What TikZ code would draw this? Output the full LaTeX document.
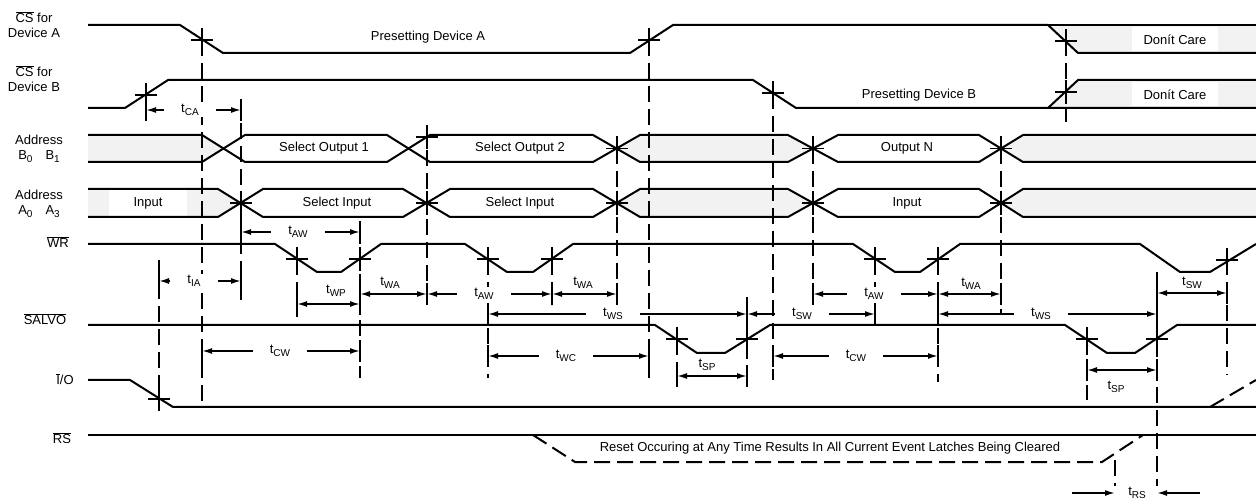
\documentclass[tikz,border=0pt]{standalone}
\usepackage{fontspec}
\setmainfont{Liberation Sans}
\usepackage{tikz}
\usetikzlibrary{arrows.meta}

\tikzset{
  sig/.style={line width=2pt},
  tline/.style={line width=1.8pt, dash pattern=on 16pt off 7pt},
  dimarr/.style={->, line width=1.6pt},
  tickln/.style={line width=1.6pt},
  shade/.style={fill=black!5},
  dimlbl/.style={fill=white, inner xsep=17pt, inner ysep=1pt},
  txtlbl/.style={align=center},
  blank/.style={fill=white, minimum height=24pt, inner xsep=12pt},
}
\newcommand\lowidx[1]{\raisebox{-3.5pt}{\fontsize{10}{12}\selectfont #1}}
\newcommand\tsub[1]{t\lowidx{#1}}

\begin{document}
\begin{tikzpicture}[x=1pt, y=-1pt, >={Latex[length=10pt,width=6pt]}, font=\fontsize{13}{15}\selectfont]
\useasboundingbox (0,0) rectangle (1256,502);

% don't care and undefined areas
\fill[shade] (1048,25) -- (1078,53) -- (1256,53) -- (1256,25) -- cycle;
\fill[shade] (1048,108) -- (1078,80) -- (1256,80) -- (1256,108) -- cycle;
\foreach \t/\b/\xl in {135/162/202, 189/217/218} {
  \fill[shade] (88,\t) -- (\xl,\t) -- (\xl+22,{(\t+\b)/2}) -- (\xl,\b) -- (88,\b) -- cycle;
  \fill[shade] (617,{(\t+\b)/2}) -- (640,\t) -- (788,\t) -- (813,{(\t+\b)/2}) -- (788,\b) -- (640,\b) -- cycle;
  \fill[shade] (1001,{(\t+\b)/2}) -- (1023,\t) -- (1256,\t) -- (1256,\b) -- (1023,\b) -- cycle;
}
\node[blank] (dca) at (1175,39.5) {Donít Care};
\node[blank] (dcb) at (1175,94.5) {Donít Care};
\node[blank, minimum height=26pt, inner xsep=25pt] (in1) at (148,203) {Input};

% signal names
\node[txtlbl] (csa) at (34,24.5) {$\overline{\mbox{CS}}$ for\\Device A};
\node[txtlbl] (csb) at (34,79) {$\overline{\mbox{CS}}$ for\\Device B};
\node[txtlbl] (adb) at (39,149) {Address\\B\lowidx{0}\quad B\lowidx{1}};
\node[txtlbl] (ada) at (39,204) {Address\\A\lowidx{0}\quad A\lowidx{3}};
\node (wr) at (58,242) {$\overline{\mbox{WR}}$};
\node (salvo) at (45,319) {$\overline{\mbox{SALVO}}$};
\node (io) at (65,379) {$\overline{\mbox{I}}$/O};
\node (rs) at (62,438) {$\overline{\mbox{RS}}$};

% waveforms
\draw[sig] (88,25) -- (180,25) -- (223,53) -- (630,53) -- (673,25) -- (1048,25) -- (1078,53) -- (1256,53);
\draw[sig] (1048,25) -- (1256,25);
\draw[sig] (88,108) -- (125,108) -- (168,80) -- (753,80) -- (796,108) -- (1256,108);
\draw[sig] (1048,108) -- (1078,80) -- (1256,80);
\foreach \t/\b/\p/\q/\r/\s in {135/162/202/245/387/430, 189/217/218/263/403/450} {
  \draw[sig] (88,\t) -- (\p,\t) -- (\q,\b) -- (\r,\b) -- (\s,\t) -- (593,\t) -- (640,\b) -- (788,\b)
    -- (838,\t) -- (979,\t) -- (1023,\b) -- (1256,\b);
  \draw[sig] (88,\b) -- (\p,\b) -- (\q,\t) -- (\r,\t) -- (\s,\b) -- (593,\b) -- (640,\t) -- (788,\t)
    -- (838,\b) -- (979,\b) -- (1023,\t) -- (1256,\t);
}
\draw[sig] (88,244) -- (275,244) -- (317,272) -- (341,272) -- (381,244) -- (465,244) -- (507,272)
  -- (533,272) -- (573,244) -- (853,244) -- (895,272) -- (920,272) -- (960,244) -- (1140,244)
  -- (1180,272) -- (1210,272) -- (1256,244);
\draw[sig] (88,325) -- (655,325) -- (697,353) -- (725,353) -- (770,325) -- (1065,325) -- (1107,353)
  -- (1135,353) -- (1177,325) -- (1256,325);
\draw[sig] (88,380) -- (130,380) -- (173,407) -- (1256,407);
\draw[sig, dash pattern=on 16pt off 7pt] (1210,407) -- (1256,380);
\draw[sig] (88,435) -- (1256,435);
\draw[sig, dash pattern=on 16pt off 7pt] (533,435) -- (575,462) -- (1102,462) -- (1143,435);

% bus and signal texts
\node (pda) at (428,37) {Presetting Device A};
\node (pdb) at (919,95) {Presetting Device B};
\node (so1) at (324,148) {Select Output 1};
\node (so2) at (520,148) {Select Output 2};
\node (on) at (907,148) {Output N};
\node (si1) at (337,203) {Select Input};
\node (si2) at (520,203) {Select Input};
\node (in2) at (907,203) {Input};
\node (rst) at (830,448) {Reset Occuring at Any Time Results In All Current Event Latches Being Cleared};

% reference lines
\foreach \x/\a/\b in {159/260/399, 202/40/405, 241/100/303, 297/259/317, 360/228/378, 427/127/305,
  488/259/378, 552/259/305, 617/148/300, 649/40/378, 677/339/385, 747/297/385, 773/93/380,
  813/148/300, 875/259/317, 938/259/382, 1001/148/315, 1066/40/122, 1087/339/400, 1115/460/502,
  1157/272/502, 1227/259/375}
  \draw[tline] (\x,\a) -- (\x,\b);

% crossing marks
\foreach \x/\y in {202/40, 649/40, 1066/41, 146/95, 773/93, 1066/92, 427/137,
  617/148.5, 813/148.5, 1001/148.5, 241/203, 427/203, 617/203, 813/203, 1001/203,
  297/259, 360/259, 488/259, 552/259, 875/259, 938/259, 1227/260,
  677/339, 747/339, 1087/339, 1157/339, 159/399}
  \draw[tickln] (\x-11,\y) -- (\x+11,\y) (\x,\y-12) -- (\x,\y+12);

% timing parameters
\foreach \nm/\lx/\y/\xa/\xb/\s in {tca/190/110/146/241/CA, tia/194/281/159/241/IA,
  taw1/298/232/241/360/AW, tcw1/280/351/202/360/CW, taw2/484/294/427/552/AW,
  tws1/613/314/488/747/WS, twc/566/356/488/649/WC, tsw1/802/314/747/875/SW,
  tcw2/856/356/773/938/CW, taw3/874/294/813/938/AW, tws2/1041/314/938/1157/WS} {
  \node[dimlbl] (\nm) at (\lx,\y) {\tsub{\s}};
  \draw[dimarr] (\nm) -- (\xa,\y);
  \draw[dimarr] (\nm) -- (\xb,\y);
  \draw[tickln] (\xa,\y-11) -- (\xa,\y+11) (\xb,\y-11) -- (\xb,\y+11);
}
\foreach \lx/\ly/\y/\xa/\xb/\s [count=\k] in {336/291/304/297/360/WP, 390/283/294/360/427/WA,
  583/283/294/552/617/WA, 971/284/294/938/1001/WA, 1192/283/293/1157/1227/SW,
  707/365/376/677/747/SP, 1116/387/370/1087/1157/SP} {
  \draw[dimarr, <->] (\xa,\y) -- (\xb,\y);
  \draw[tickln] (\xa,\y-11) -- (\xa,\y+11) (\xb,\y-11) -- (\xb,\y+11);
  \node (dim\k) at (\lx,\ly) {\tsub{\s}};
}
\node[dimlbl] (trs) at (1137,493) {\tsub{RS}};
\draw[dimarr] (1072,493) -- (1115,493);
\draw[dimarr] (1200,493) -- (1157,493);
\end{tikzpicture}
\end{document}
